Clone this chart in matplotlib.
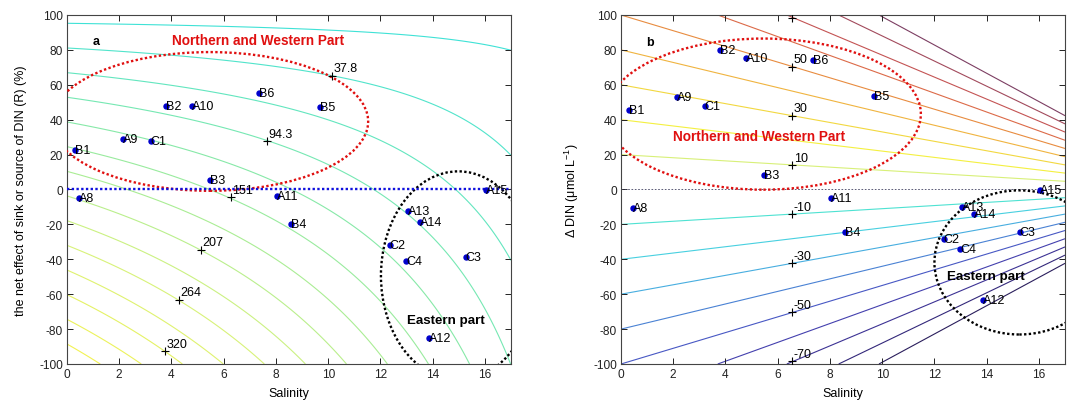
import numpy as np
import matplotlib
matplotlib.use('Agg')
import matplotlib.pyplot as plt
from matplotlib.colors import LinearSegmentedColormap
from matplotlib.patches import Ellipse

plt.rcParams['font.family'] = ['Liberation Sans', 'DejaVu Sans']
plt.rcParams['mathtext.fontset'] = 'custom'
plt.rcParams['mathtext.rm'] = 'Liberation Sans'
plt.rcParams['axes.unicode_minus'] = False

# ─────────────────────────────────────────────
# Data
# ─────────────────────────────────────────────
stations = ['B1', 'A9', 'C1', 'B2', 'A10', 'B6', 'B5', 'B3', 'A8', 'A11',
            'A15', 'A13', 'A14', 'B4', 'C2', 'C4', 'C3', 'A12']
salinity = [0.29, 2.13, 3.21, 3.78, 4.80, 7.36, 9.67, 5.47, 0.45, 8.05,
            16.03, 13.06, 13.53, 8.58, 12.35, 12.99, 15.26, 13.85]
r_effect = [22.6, 28.7, 27.8, 48.1, 48.1, 55.3, 47.5, 5.4, -4.9, -3.5,
            -0.3, -12.5, -18.4, -19.9, -31.7, -41.0, -38.7, -84.9]
delta_din = [45.8, 52.9, 47.7, 80.0, 75.1, 74.0, 53.4, 8.2, -10.6, -5.0,
             -0.3, -9.9, -14.0, -24.1, -28.3, -34.0, -24.1, -63.4]

# conservative mixing line of DIN (umol/L): river end-member and slope
din_river = 200.0
din_slope = 9.0

# panel a contour levels and their "+" labels
levels_a = [9.5, 37.8, 66.1, 94.3, 122.6, 150.9, 179.2, 207.4, 235.7,
            264.0, 292.3, 320.5, 348.8, 377.1]
lab_a_s = [10.15, 7.67, 6.28, 5.14, 4.27, 3.76]
lab_a_r = [65.2, 27.8, -4.5, -34.5, -63.1, -92.5]
lab_a_txt = ['37.8', '94.3', '151', '207', '264', '320']

# panel b contour levels (R, %) and their "+" labels
levels_b = [-90, -80, -70, -60, -50, -40, -30, -20, -10,
            10, 20, 30, 40, 50, 60, 70, 80, 90]
colors_b = ['#2a1e5c', '#33287a', '#3c3294', '#4440ae', '#4858c4', '#4a82d4',
            '#48aee0', '#48d0e0', '#4ee2d2', '#d8f078', '#f4f040', '#f2d840',
            '#f0b440', '#e88c40', '#dc6a48', '#c45454', '#a24a5c', '#7c3e62']
lab_b_s = [6.56] * 8
lab_b_y = [98.4, 70.3, 42.2, 14.1, -14.1, -42.2, -70.3, -98.4]
lab_b_txt = ['', '50', '30', '10', '-10', '-30', '-50', '-70']

# grouping ellipses: (centre S, centre y, width, height)
north_a = (5.47, 39.0, 12.12, 79.5)
east_a = (14.98, -49.4, 5.92, 119.6)
north_b = (5.45, 43.2, 12.06, 86.6)
east_b = (15.25, -41.8, 6.5, 82.6)


def style_axes(ax, ylabel):
    ax.set_xlim(0, 17)
    ax.set_ylim(-100, 100)
    ax.set_xticks(range(0, 17, 2))
    ax.set_yticks(range(-100, 101, 20))
    ax.tick_params(direction='in', length=4, width=0.7, top=True, right=True,
                   labelsize=8.6, pad=3, colors='#222222')
    for sp in ax.spines.values():
        sp.set_color('#444444')
        sp.set_linewidth(0.8)
    ax.set_xlabel('Salinity', fontsize=9)
    ax.xaxis.set_label_coords(0.5, -0.065)
    ax.set_ylabel(ylabel, fontsize=9)
    ax.yaxis.set_label_coords(-0.09, 0.5)


def draw_stations(ax, yvals):
    ax.plot(salinity, yvals, 'o', color='#0000cc', markersize=3.6,
            linestyle='none', zorder=5)
    for s, y, name in zip(salinity, yvals, stations):
        ax.text(s, y, name, fontsize=9, ha='left', va='center', zorder=6)


def draw_plus_labels(ax, xs, ys, txts):
    ax.plot(xs, ys, '+', color='black', markersize=6, markeredgewidth=0.8,
            linestyle='none', zorder=4)
    for x, y, t in zip(xs, ys, txts):
        if t:
            ax.annotate(t, (x, y), xytext=(1, 1), textcoords='offset points',
                        fontsize=9, ha='left', va='bottom', zorder=6)


def draw_ellipse(ax, params, color):
    cx, cy, w, h = params
    ax.add_patch(Ellipse((cx, cy), w, h, fill=False, edgecolor=color,
                         linewidth=1.7, linestyle=(0, (1, 1)), zorder=3,
                         clip_on=True))


fig = plt.figure(figsize=(10.72, 4.06), dpi=100)
ax1 = fig.add_axes([0.0625, 0.101, 0.4142, 0.8596])
ax2 = fig.add_axes([0.5793, 0.101, 0.4142, 0.8596])

S, Y = np.meshgrid(np.linspace(0, 17, 341), np.linspace(-100, 100, 401))
din_cons = din_river - din_slope * S

# ── Panel a: R vs salinity ──
field_a = din_cons * (1 - Y / 100.0)
cmap_a = LinearSegmentedColormap.from_list(
    'a', ['#3fe2d6', '#8eeaa4', '#d6f27c', '#f2f252'])
colors_a = [cmap_a(i / (len(levels_a) - 1)) for i in range(len(levels_a))]
ax1.contour(S, Y, field_a, levels=levels_a, colors=colors_a,
            linewidths=0.8, zorder=1)
draw_ellipse(ax1, north_a, '#e01010')
draw_ellipse(ax1, east_a, 'black')
ax1.axhline(0, color='#1010dd', linewidth=1.7, linestyle=(0, (1, 1)), zorder=3)
draw_plus_labels(ax1, lab_a_s, lab_a_r, lab_a_txt)
draw_stations(ax1, r_effect)
ax1.text(1.12, 85, 'a', fontsize=9, fontweight='bold', ha='center', va='center')
ax1.text(7.32, 85.4, 'Northern and Western Part', color='#e01010',
         fontsize=9.8, fontweight='bold', ha='center', va='center')
ax1.text(14.49, -75, 'Eastern part', fontsize=9.6, fontweight='bold',
         ha='center', va='center')
style_axes(ax1, 'the net effect of sink or source of DIN (R) (%)')

# ── Panel b: delta DIN vs salinity ──
field_b = Y / din_cons * 100.0
ax2.contour(S, Y, field_b, levels=levels_b, colors=colors_b,
            linewidths=0.8, zorder=1)
ax2.axhline(0, color='#404060', linewidth=0.6, linestyle=(0, (2, 2)), zorder=2)
draw_ellipse(ax2, north_b, '#e01010')
draw_ellipse(ax2, east_b, 'black')
draw_plus_labels(ax2, lab_b_s, lab_b_y, lab_b_txt)
draw_stations(ax2, delta_din)
ax2.text(1.10, 84.8, 'b', fontsize=9, fontweight='bold', ha='center', va='center')
ax2.text(5.3, 30.9, 'Northern and Western Part', color='#e01010',
         fontsize=9.8, fontweight='bold', ha='center', va='center')
ax2.text(13.97, -49.8, 'Eastern part', fontsize=9.6, fontweight='bold',
         ha='center', va='center')
style_axes(ax2, r'Δ DIN (μmol L$^{-1}$)')

fig.savefig('out.png', dpi=100)
plt.close(fig)
